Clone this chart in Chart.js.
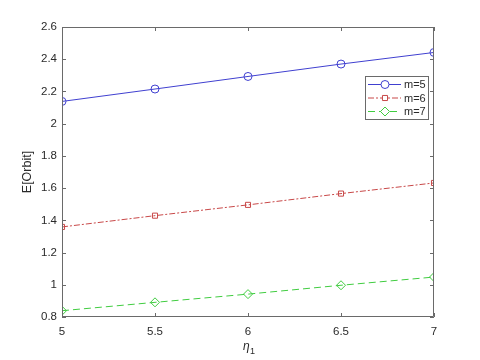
<!DOCTYPE html>
<html>
<head>
<meta charset="utf-8">
<script src="https://cdn.jsdelivr.net/npm/chart.js@4.4.0/dist/chart.umd.min.js"></script>
<style>
  html, body { margin: 0; padding: 0; background: #fff; }
</style>
</head>
<body>
<canvas id="c" width="480" height="360"></canvas>
<script>
// data
const eta = [5, 5.5, 6, 6.5, 7];
const m5 = [2.138, 2.215, 2.293, 2.370, 2.442];
const m6 = [1.359, 1.429, 1.496, 1.566, 1.632];
const m7 = [0.839, 0.891, 0.942, 0.997, 1.048];
const seriesLabels = ['m=5', 'm=6', 'm=7'];
const xTicks = [5, 5.5, 6, 6.5, 7];
const yTicks = [0.8, 1, 1.2, 1.4, 1.6, 1.8, 2, 2.2, 2.4, 2.6];

const blue = '#4040d0'
const red = '#c84848'
const green = '#40cc40'
const axisCol = '#6a6a6a'
const textCol = '#2a2a2a'
const FONT = 'Liberation Sans, Arial, sans-serif'

const pts = ys => eta.map((x, i) => ({ x: x, y: ys[i] }));

// frame + inward ticks, like matlab's box on
const frameTicks = {
    id: 'frameTicks',
    afterDatasetsDraw(chart) {
        const ctx = chart.ctx;
        const a = chart.chartArea;
        const xs = chart.scales.x, ys = chart.scales.y;
        const tl = 4;
        ctx.save();
        ctx.strokeStyle = axisCol;
        ctx.lineWidth = 1;
        ctx.beginPath();
        ctx.rect(a.left + 0.5, a.top + 0.5, a.right - a.left - 1, a.bottom - a.top - 1);
        xTicks.forEach(v => {
            const px = Math.round(xs.getPixelForValue(v)) + 0.5;
            ctx.moveTo(px, a.bottom); ctx.lineTo(px, a.bottom - tl);
            ctx.moveTo(px, a.top); ctx.lineTo(px, a.top + tl);
        });
        yTicks.forEach(v => {
            const py = Math.round(ys.getPixelForValue(v)) + 0.5;
            ctx.moveTo(a.left, py); ctx.lineTo(a.left + tl, py);
            ctx.moveTo(a.right, py); ctx.lineTo(a.right - tl, py);
        });
        ctx.stroke();

        // x axis title: eta with subscript 1
        ctx.fillStyle = textCol;
        ctx.textBaseline = 'alphabetic';
        ctx.textAlign = 'left';
        ctx.font = 'italic 12px ' + FONT;
        const cx = (a.left + a.right) / 2;
        ctx.fillText('η', cx - 5, 350);
        ctx.font = '9px ' + FONT;
        ctx.fillText('1', cx + 2, 354);
        ctx.restore();
    }
};

// legend box drawn inside the axes
const boxLegend = {
    id: 'boxLegend',
    afterDraw(chart) {
        const ctx = chart.ctx;
        const bx = 365, by = 76, bw = 63, bh = 43;
        ctx.save();
        ctx.fillStyle = '#fff';
        ctx.fillRect(bx, by, bw, bh);
        ctx.strokeStyle = axisCol;
        ctx.lineWidth = 1;
        ctx.strokeRect(bx + 0.5, by + 0.5, bw, bh);
        chart.data.datasets.forEach((ds, i) => {
            const y = 84.5 + i * 13.5;
            ctx.strokeStyle = ds.borderColor;
            ctx.lineWidth = 1;
            ctx.setLineDash(ds.borderDash || []);
            ctx.beginPath();
            ctx.moveTo(368, y); ctx.lineTo(401, y);
            ctx.stroke();
            ctx.setLineDash([]);
            ctx.fillStyle = '#fff';
            ctx.strokeStyle = ds.borderColor;
            Chart.helpers.drawPoint(ctx, {
                pointStyle: ds.pointStyle, radius: ds.pointRadius, rotation: 0, borderWidth: 1
            }, 385, y);
            ctx.fillStyle = textCol;
            ctx.font = '11px ' + FONT;
            ctx.textAlign = 'left';
            ctx.textBaseline = 'middle';
            ctx.fillText(ds.label, 404, y + 0.5);
        });
        ctx.restore();
    }
};

const ctx = document.getElementById('c').getContext('2d');
const chart = new Chart(ctx, {
    type: 'line',
    data: {
        datasets: [{
            label: seriesLabels[0],
            data: pts(m5),
            borderColor: blue,
            borderWidth: 1,
            pointStyle: 'circle',
            pointRadius: 4,
            pointBorderColor: blue,
            pointBackgroundColor: 'rgba(0,0,0,0)',
            pointBorderWidth: 1,
            tension: 0
        },
        {
            label: seriesLabels[1],
            data: pts(m6),
            borderColor: red,
            borderWidth: 1,
            borderDash: [6, 2, 2, 2],
            pointStyle: 'rect',
            pointRadius: 3.6,
            pointBorderColor: red,
            pointBackgroundColor: 'rgba(0,0,0,0)',
            pointBorderWidth: 1,
            tension: 0
        },
        {
            label: seriesLabels[2],
            data: pts(m7),
            borderColor: green,
            borderWidth: 1,
            borderDash: [7, 4],
            pointStyle: 'rectRot',
            pointRadius: 4.5,
            pointBorderColor: green,
            pointBackgroundColor: 'rgba(0,0,0,0)',
            pointBorderWidth: 1,
            tension: 0
        }]
    },
    options: {
        responsive: false,
        animation: false,
        devicePixelRatio: 1,
        layout: { padding: { top: 27, right: 46, left: 0, bottom: 0 } },
        scales: {
            x: {
                type: 'linear',
                min: 5,
                max: 7,
                afterBuildTicks: s => { s.ticks = xTicks.map(v => ({ value: v })); },
                afterFit: s => { s.height = 43; },
                grid: { display: false, drawTicks: false },
                border: { display: false },
                ticks: {
                    color: textCol,
                    font: { family: FONT, size: 11.5 },
                    padding: 8,
                    maxRotation: 0,
                    callback: v => String(v)
                }
            },
            y: {
                min: 0.8,
                max: 2.6,
                afterBuildTicks: s => { s.ticks = yTicks.map(v => ({ value: v })); },
                afterFit: s => { s.width = 62; },
                grid: { display: false, drawTicks: false },
                border: { display: false },
                ticks: {
                    color: textCol,
                    font: { family: FONT, size: 11.5 },
                    padding: 5,
                    callback: v => String(Math.round(v * 10) / 10)
                },
                title: {
                    display: true,
                    text: 'E[Orbit]',
                    color: textCol,
                    font: { family: FONT, size: 12.5 },
                    padding: { top: 20, bottom: 0 }
                }
            }
        },
        plugins: {
            legend: { display: false },
            tooltip: { enabled: false }
        }
    },
    plugins: [frameTicks, boxLegend]
});
</script>
</body>
</html>
